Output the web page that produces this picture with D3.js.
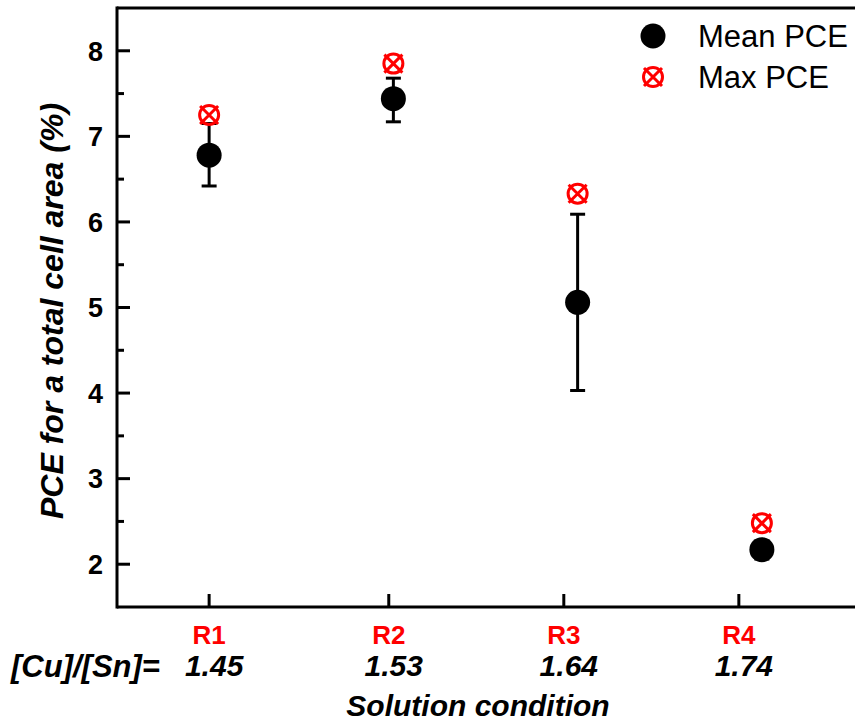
<!DOCTYPE html>
<html>
<head>
<meta charset="utf-8">
<script src="https://cdnjs.cloudflare.com/ajax/libs/d3/7.8.5/d3.min.js"></script>
<style>
  body { margin: 0; background: #fff; }
  text { font-family: "Liberation Sans", Arial, sans-serif; }
</style>
</head>
<body>
<div id="chart"></div>
<script>
// chart data
var conditions = ["R1", "R2", "R3", "R4"];
var ratios = ["1.45", "1.53", "1.64", "1.74"];
var conditionX = [1, 2, 3, 4];
var tickAt = [1, 1.975, 2.925, 3.875];   // ticks in the original sit slightly left of the points
var meanPCE = [6.78, 7.44, 5.06, 2.17];
var errLow = [6.42, 7.17, 4.03, 2.06];
var errHigh = [7.15, 7.68, 6.09, 2.27];
var maxPCE = [7.25, 7.85, 6.33, 2.48];
var yTicks = [2, 3, 4, 5, 6, 7, 8];
var yMinor = [2.5, 3.5, 4.5, 5.5, 6.5, 7.5];

var width = 855, height = 723;
var margin = {left: 117, top: 8, right: 1, bottom: 116};

var svg = d3.select("#chart").append("svg")
    .attr("width", width)
    .attr("height", height);

var x = d3.scaleLinear()
    .domain([0.5, 4.5])
    .range([margin.left, width - margin.right]);

var y = d3.scaleLinear()
    .domain([1.5, 8.5])
    .range([height - margin.bottom, margin.top]);

var axisColor = "#000";
var sw = 3;

// frame: left, bottom, top
svg.append("line")
    .attr("x1", x(0.5)).attr("x2", x(0.5))
    .attr("y1", y(1.5) + sw / 2).attr("y2", y(8.5) - sw / 2)
    .style("stroke", axisColor).style("stroke-width", sw);
svg.append("line")
    .attr("x1", x(0.5)).attr("x2", width)
    .attr("y1", y(1.5)).attr("y2", y(1.5))
    .style("stroke", axisColor).style("stroke-width", sw);
svg.append("line")
    .attr("x1", x(0.5)).attr("x2", width)
    .attr("y1", y(8.5)).attr("y2", y(8.5))
    .style("stroke", axisColor).style("stroke-width", sw);

// y axis ticks (pointing inward)
svg.selectAll(".ytick")
    .data(yTicks)
  .enter().append("line")
    .attr("class", "ytick")
    .attr("x1", x(0.5)).attr("x2", x(0.5) + 13)
    .attr("y1", function(d) { return y(d); })
    .attr("y2", function(d) { return y(d); })
    .style("stroke", axisColor).style("stroke-width", sw);

svg.selectAll(".yminor")
    .data(yMinor)
  .enter().append("line")
    .attr("class", "yminor")
    .attr("x1", x(0.5)).attr("x2", x(0.5) + 7)
    .attr("y1", function(d) { return y(d); })
    .attr("y2", function(d) { return y(d); })
    .style("stroke", axisColor).style("stroke-width", sw);

svg.selectAll(".ylabel")
    .data(yTicks)
  .enter().append("text")
    .attr("class", "ylabel")
    .attr("x", x(0.5) - 14)
    .attr("y", function(d) { return y(d); })
    .attr("dy", "0.36em")
    .attr("text-anchor", "end")
    .style("font-size", "27px")
    .style("font-weight", "bold")
    .text(function(d) { return d; });

// x axis ticks
svg.selectAll(".xtick")
    .data(tickAt)
  .enter().append("line")
    .attr("class", "xtick")
    .attr("x1", function(d) { return x(d); })
    .attr("x2", function(d) { return x(d); })
    .attr("y1", y(1.5)).attr("y2", y(1.5) - 13)
    .style("stroke", axisColor).style("stroke-width", sw);

svg.selectAll(".xlabel")
    .data(conditions)
  .enter().append("text")
    .attr("class", "xlabel")
    .attr("x", function(d, i) { return x(tickAt[i]); })
    .attr("y", 644)
    .attr("text-anchor", "middle")
    .style("font-size", "26px")
    .style("font-weight", "bold")
    .style("fill", "#ff0000")
    .text(function(d) { return d; });

svg.selectAll(".ratio")
    .data(ratios)
  .enter().append("text")
    .attr("class", "ratio")
    .attr("x", function(d, i) { return x(tickAt[i]) + 5; })
    .attr("y", 676)
    .attr("text-anchor", "middle")
    .style("font-size", "30px")
    .style("font-weight", "bold")
    .style("font-style", "italic")
    .text(function(d) { return d; });

svg.append("text")
    .attr("x", 11)
    .attr("y", 677)
    .style("font-size", "31px")
    .style("font-weight", "bold")
    .style("font-style", "italic")
    .text("[Cu]/[Sn]=");

svg.append("text")
    .attr("x", 478)
    .attr("y", 716)
    .attr("text-anchor", "middle")
    .style("font-size", "30px")
    .style("font-weight", "bold")
    .style("font-style", "italic")
    .text("Solution condition");

svg.append("text")
    .attr("transform", "translate(63," + 311 + ") rotate(-90)")
    .attr("text-anchor", "middle")
    .style("font-size", "32px")
    .style("font-weight", "bold")
    .style("font-style", "italic")
    .text("PCE for a total cell area (%)");

// error bars
var bars = svg.selectAll(".err")
    .data(conditionX)
  .enter().append("g")
    .attr("class", "err");

bars.append("line")
    .attr("x1", function(d) { return x(d); })
    .attr("x2", function(d) { return x(d); })
    .attr("y1", function(d, i) { return y(errLow[i]); })
    .attr("y2", function(d, i) { return y(errHigh[i]); })
    .style("stroke", "#000").style("stroke-width", sw);
bars.append("line")
    .attr("x1", function(d) { return x(d) - 7.5; })
    .attr("x2", function(d) { return x(d) + 7.5; })
    .attr("y1", function(d, i) { return y(errLow[i]); })
    .attr("y2", function(d, i) { return y(errLow[i]); })
    .style("stroke", "#000").style("stroke-width", sw);
bars.append("line")
    .attr("x1", function(d) { return x(d) - 7.5; })
    .attr("x2", function(d) { return x(d) + 7.5; })
    .attr("y1", function(d, i) { return y(errHigh[i]); })
    .attr("y2", function(d, i) { return y(errHigh[i]); })
    .style("stroke", "#000").style("stroke-width", sw);

// max PCE marker: circle with an X through it
function maxMarker(g) {
    g.append("circle")
        .attr("r", 9.5)
        .style("fill", "none")
        .style("stroke", "#ff0000")
        .style("stroke-width", 3);
    g.append("path")
        .attr("d", "M-9,-9L9,9M-9,9L9,-9")
        .style("stroke", "#ff0000")
        .style("stroke-width", 3);
}

svg.selectAll(".maxpt")
    .data(maxPCE)
  .enter().append("g")
    .attr("class", "maxpt")
    .attr("transform", function(d, i) { return "translate(" + x(conditionX[i]) + "," + y(d) + ")"; })
    .call(maxMarker);

svg.selectAll(".meanpt")
    .data(meanPCE)
  .enter().append("circle")
    .attr("class", "meanpt")
    .attr("cx", function(d, i) { return x(conditionX[i]); })
    .attr("cy", function(d) { return y(d); })
    .attr("r", 12.5)
    .style("fill", "#000");

// legend
var legend = svg.append("g").attr("transform", "translate(653,36)");
legend.append("circle").attr("r", 12.5).style("fill", "#000");
legend.append("text")
    .attr("x", 45).attr("y", 11)
    .style("font-size", "31px")
    .text("Mean PCE");
var lg2 = legend.append("g").attr("transform", "translate(0,41)");
maxMarker(lg2);
lg2.append("text")
    .attr("x", 45).attr("y", 11)
    .style("font-size", "31px")
    .text("Max PCE");
</script>
</body>
</html>
